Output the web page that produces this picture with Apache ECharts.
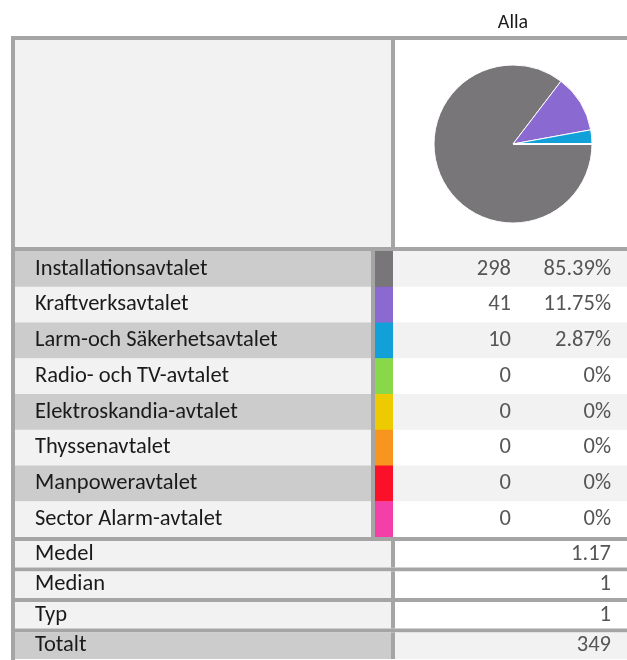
<!DOCTYPE html>
<html>
<head>
<meta charset="utf-8">
<script src="https://cdn.jsdelivr.net/npm/echarts@6/dist/echarts.min.js"></script>
<style>
html,body{margin:0;padding:0;background:#fff;}
#c{width:627px;height:660px;}
</style>
</head>
<body>
<div id="c"></div>
<script>
// ---- data ----
var columnTitle = 'Alla';
var categories = ['Installationsavtalet','Kraftverksavtalet','Larm-och Säkerhetsavtalet','Radio- och TV-avtalet','Elektroskandia-avtalet','Thyssenavtalet','Manpoweravtalet','Sector Alarm-avtalet'];
var counts = [298, 41, 10, 0, 0, 0, 0, 0];
var percents = ['85.39%','11.75%','2.87%','0%','0%','0%','0%','0%'];
var swatchColors = ['#787679','#8a6ad0','#12a0d8','#88d84a','#eecb00','#f7951f','#fa1129','#f53fa8'];
var statLabels = ['Medel','Median','Typ','Totalt'];
var statValues = ['1.17','1','1','349'];

// ---- layout ----
var FONT = 'Carlito, Lato, sans-serif';
var BORDER = '#a5a5a5', DARK = '#cccccc', LIGHT = '#f2f2f2', WHITE = '#ffffff';
var L = 11, R = 627, bw = 4;
var topY = 36, topBottom = 247;
var divX = 391;
var dataTop = 251, rowH = 35.75;
var labelRight = 371, swX = 375, swRight = 393;
var statTop = 541, statStep = 30.5, statH = 26.5;
var FS = 22.5;

var g = [];
function rect(x, y, w, h, fill) {
  g.push({type:'rect', silent:true, shape:{x:x, y:y, width:w, height:h}, style:{fill:fill}});
}
function text(x, y, s, align, color, size) {
  g.push({type:'text', silent:true, x:x, y:y, style:{text:s, textAlign:align, textVerticalAlign:'middle', fill:color, font: size + 'px ' + FONT}});
}

// header title
text(513, 23, columnTitle, 'center', '#1a1a1a', 20);

// outer left border for whole table
rect(L, topY, bw, 660 - topY, BORDER);
// top border
rect(L, topY, R - L, bw, BORDER);
// top section
rect(L + bw, topY + bw, divX - L - bw, topBottom - topY - bw, LIGHT);
rect(divX, topY + bw, bw, topBottom - topY - bw, BORDER);
rect(divX + bw, topY + bw, R - divX - bw, topBottom - topY - bw, WHITE);
rect(L, topBottom, R - L, bw, BORDER);

// data rows
categories.forEach(function (cat, i) {
  var y = dataTop + i * rowH;
  var odd = i % 2 === 0;
  rect(L + bw, y, labelRight - L - bw, rowH + 0.5, odd ? DARK : LIGHT);
  rect(swX, y, swRight - swX, rowH + 0.5, swatchColors[i]);
  rect(swRight, y, R - swRight, rowH + 0.5, odd ? LIGHT : WHITE);
  text(35, y + rowH / 2, cat, 'left', '#1a1a1a', FS);
  text(511, y + rowH / 2, String(counts[i]), 'right', '#555555', FS);
  text(611, y + rowH / 2, percents[i], 'right', '#555555', FS);
});
var dataBottom = dataTop + categories.length * rowH;
rect(labelRight, dataTop, bw, dataBottom - dataTop, BORDER);
rect(L, dataBottom, R - L, bw, BORDER);

// stats rows
statLabels.forEach(function (lab, i) {
  var y = statTop + i * statStep;
  var last = i === statLabels.length - 1;
  rect(L + bw, y, divX - L - bw, statH, last ? DARK : LIGHT);
  rect(divX, y, bw, statH, BORDER);
  rect(divX + bw, y, R - divX - bw, statH, last ? LIGHT : WHITE);
  if (!last) rect(L, y + statH, R - L, bw, BORDER);
  text(35, y + statH / 2, lab, 'left', '#1a1a1a', FS);
  text(611, y + statH / 2, statValues[i], 'right', '#555555', FS);
});

var chart = echarts.init(document.getElementById('c'), null, {renderer:'canvas'});
chart.setOption({
  animation: false,
  backgroundColor: '#ffffff',
  graphic: {elements: g},
  series: [{
    type: 'pie',
    z: 10,
    center: [513, 144],
    radius: 79,
    startAngle: 0,
    clockwise: true,
    silent: true,
    label: {show:false},
    labelLine: {show:false},
    itemStyle: {borderColor:'#ffffff', borderWidth:1},
    data: categories.map(function (c, i) {
      return {name:c, value:counts[i], itemStyle:{color:swatchColors[i]}};
    })
  }]
});
</script>
</body>
</html>
